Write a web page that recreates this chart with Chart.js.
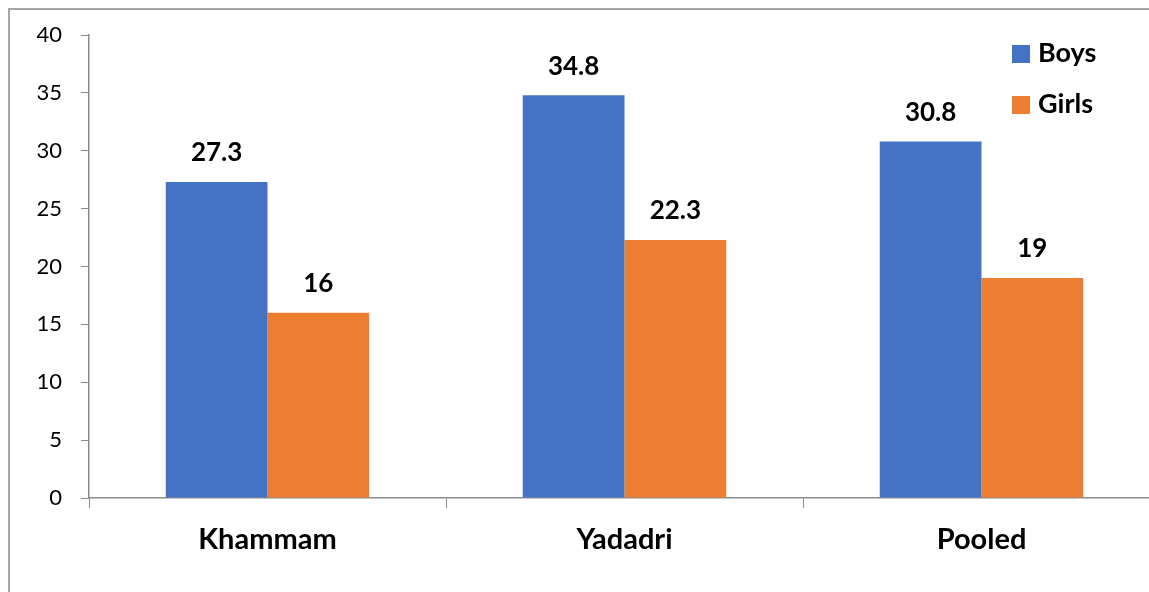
<!DOCTYPE html>
<html>
<head>
<meta charset="utf-8">
<script src="https://cdn.jsdelivr.net/npm/chart.js@4"></script>
<style>
  html, body { margin: 0; padding: 0; background: #fff; overflow: hidden; }
  #wrap { position: relative; width: 1149px; height: 592px; overflow: hidden; }
  #frame { position: absolute; left: 8px; top: 8px; width: 2000px; height: 2000px;
           border-left: 2px solid #a6a6a6; border-top: 2px solid #a6a6a6; }
  #box { position: absolute; left: 0; top: 0; width: 1170px; height: 592px; }
  .leg { position: absolute; left: 1012px; font: bold 27px Lato, sans-serif; color: #000; }
  .leg i { display: inline-block; width: 18px; height: 18px; margin-right: 8px; vertical-align: -1px; }
</style>
</head>
<body>
<div id="wrap">
  <div id="frame"></div>
  <div id="box"><canvas id="chart"></canvas></div>
  <div class="leg" style="top:35px"><i style="background:#4472C4"></i>Boys</div>
  <div class="leg" style="top:86px"><i style="background:#ED7D31"></i>Girls</div>
</div>
<script>
/* ── DATA ── */
const districts = ['Khammam', 'Yadadri', 'Pooled'];
const boys  = [27.3, 34.8, 30.8];
const girls = [16, 22.3, 19];

const axisGray = '#8c8c8c';
const font = 'Lato';

/* ── VALUE LABELS above bars ── */
const valueLabels = {
  id: 'valueLabels',
  afterDatasetsDraw(chart) {
    const { ctx } = chart;
    ctx.save();
    ctx.font = `bold 26px ${font}`;
    ctx.fillStyle = '#000';
    ctx.textAlign = 'center';
    ctx.textBaseline = 'middle';
    chart.data.datasets.forEach((ds, i) => {
      chart.getDatasetMeta(i).data.forEach((bar, j) => {
        ctx.fillText(String(ds.data[j]), bar.x, bar.y - 29);
      });
    });
    ctx.restore();
  }
};

new Chart(document.getElementById('chart'), {
  type: 'bar',
  data: {
    labels: districts,
    datasets: [
      { label: 'Boys',  data: boys,  backgroundColor: '#4472C4' },
      { label: 'Girls', data: girls, backgroundColor: '#ED7D31' }
    ]
  },
  options: {
    responsive: true, maintainAspectRatio: false, animation: false,
    layout: { padding: { top: 35, right: 10, left: 0, bottom: 0 } },
    datasets: { bar: { categoryPercentage: 0.57, barPercentage: 1 } },
    plugins: { legend: { display: false }, tooltip: { enabled: false } },
    scales: {
      x: {
        afterFit: s => { s.height = 94; },
        grid: { drawOnChartArea: false, drawTicks: true, tickLength: 10, color: axisGray, offset: true },
        border: { color: axisGray, width: 1.5 },
        ticks: { color: '#000', padding: 14, font: { family: font, size: 29, weight: 'bold' } }
      },
      y: {
        min: 0, max: 40,
        afterFit: s => { s.width = 89; },
        grid: { drawOnChartArea: false, drawTicks: true, tickLength: 8, color: axisGray },
        border: { color: axisGray, width: 1.5 },
        ticks: { stepSize: 5, color: '#000', padding: 19, font: { family: font, size: 22 } }
      }
    }
  },
  plugins: [valueLabels]
});
</script>
</body>
</html>
